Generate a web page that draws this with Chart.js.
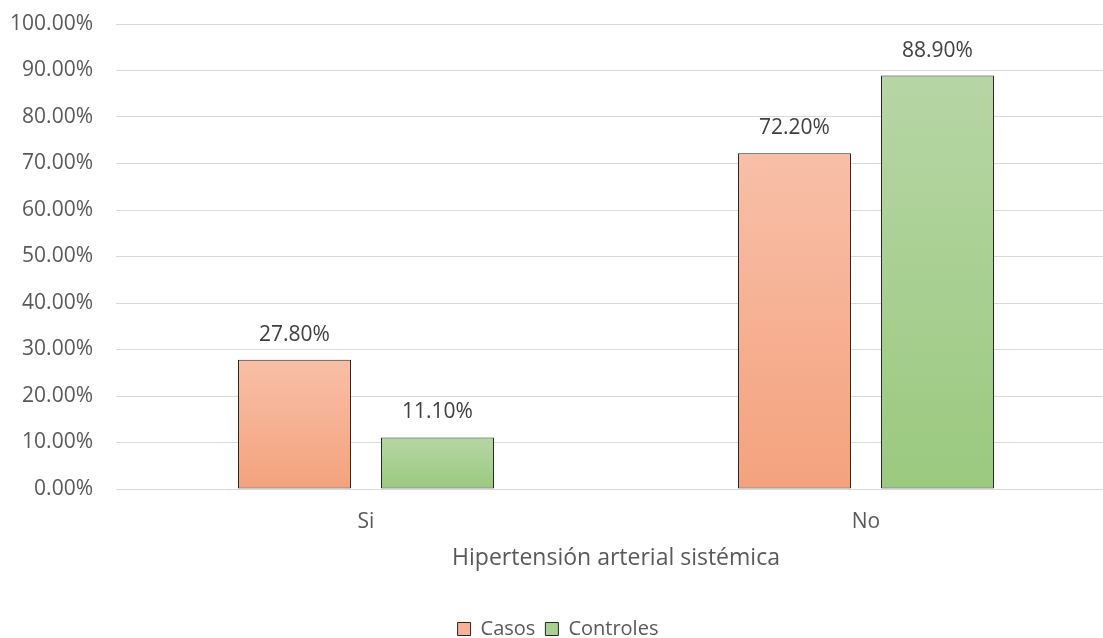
<!DOCTYPE html>
<html>
<head>
<meta charset="utf-8">
<script src="https://cdn.jsdelivr.net/npm/chart.js@4.4.1/dist/chart.umd.min.js"></script>
<style>
  html, body { margin: 0; padding: 0; background: #fff; overflow: hidden; }
  #wrap { position: absolute; left: 0; top: 0; width: 1146px; height: 649px; }
</style>
</head>
<body>
<div id="wrap"><canvas id="c"></canvas></div>
<script>
const categories = ["Si", "No"];
const seriesNames = ["Casos", "Controles"];
const casos = [27.8, 72.2];
const controles = [11.1, 88.9];
const yTicks = [0, 10, 20, 30, 40, 50, 60, 70, 80, 90, 100];
const axisTitle = "Hipertensión arterial sistémica";

const FONT = "'Open Sans', sans-serif";
const TXT = "#595959";

function grad(top, bottom) {
  return function (ctx) {
    const chart = ctx.chart;
    if (!chart.chartArea || !ctx.parsed || !chart.scales.y) return bottom;
    const ys = chart.scales.y;
    const y0 = ys.getPixelForValue(ctx.parsed.y);
    const y1 = ys.getPixelForValue(0);
    if (!isFinite(y0) || !isFinite(y1) || y0 === y1) return bottom;
    const g = chart.ctx.createLinearGradient(0, y0, 0, y1);
    g.addColorStop(0, top);
    g.addColorStop(1, bottom);
    return g;
  };
}

const solid = ["#F6B196", "#A9D093"];

const dataLabels = {
  id: "dataLabels",
  afterDatasetsDraw(chart) {
    const ctx = chart.ctx;
    ctx.save();
    ctx.font = "21px " + FONT;
    ctx.fillStyle = "#404040";
    ctx.textAlign = "center";
    ctx.textBaseline = "middle";
    chart.data.datasets.forEach((ds, i) => {
      const meta = chart.getDatasetMeta(i);
      meta.data.forEach((bar, j) => {
        ctx.fillText(ds.data[j].toFixed(2) + "%", bar.x, bar.y - 25);
      });
    });
    ctx.restore();
  }
};

new Chart(document.getElementById("c"), {
  type: "bar",
  data: {
    labels: categories,
    datasets: [
      { label: seriesNames[0], data: casos, backgroundColor: grad("#F8BFA8", "#F4A27D"),
        borderColor: "#2A2320", borderWidth: 1, borderSkipped: false },
      { label: seriesNames[1], data: controles, backgroundColor: grad("#B6D6A5", "#9BC97F"),
        borderColor: "#222A1E", borderWidth: 1, borderSkipped: false }
    ]
  },
  options: {
    responsive: true,
    maintainAspectRatio: false,
    animation: false,
    datasets: { bar: { categoryPercentage: 0.572, barPercentage: 0.79 } },
    layout: { padding: { top: 24, right: 30, left: 0, bottom: 0 } },
    scales: {
      x: {
        grid: { display: false, drawTicks: false },
        border: { display: true, color: "#D9D9D9", width: 1 },
        ticks: { color: TXT, font: { family: FONT, size: 21 }, padding: 20 },
        title: { display: true, text: axisTitle, color: TXT, font: { family: FONT, size: 23 },
                 padding: { top: 0, bottom: 37 } },
        afterFit(s) { s.height = 120; }
      },
      y: {
        min: 0, max: 100,
        afterBuildTicks(s) { s.ticks = yTicks.map(v => ({ value: v })); },
        grid: { color: "#D9D9D9", lineWidth: 1, drawTicks: false },
        border: { display: false },
        ticks: { color: TXT, font: { family: FONT, size: 21 }, padding: 23,
                 callback: v => Number(v).toFixed(2) + "%" },
        afterFit(s) { s.width = 116; s.paddingTop = 0; s.paddingBottom = 0; }
      }
    },
    plugins: {
      tooltip: { enabled: false },
      legend: {
        position: "bottom",
        labels: {
          color: TXT, font: { family: FONT, size: 20 },
          boxWidth: 13, boxHeight: 13, padding: 10,
          generateLabels(chart) {
            return chart.data.datasets.map((ds, i) => ({
              text: ds.label, fillStyle: solid[i], strokeStyle: "#262626",
              lineWidth: 1, fontColor: TXT, hidden: false, datasetIndex: i
            }));
          }
        }
      }
    }
  },
  plugins: [dataLabels]
});
</script>
</body>
</html>
